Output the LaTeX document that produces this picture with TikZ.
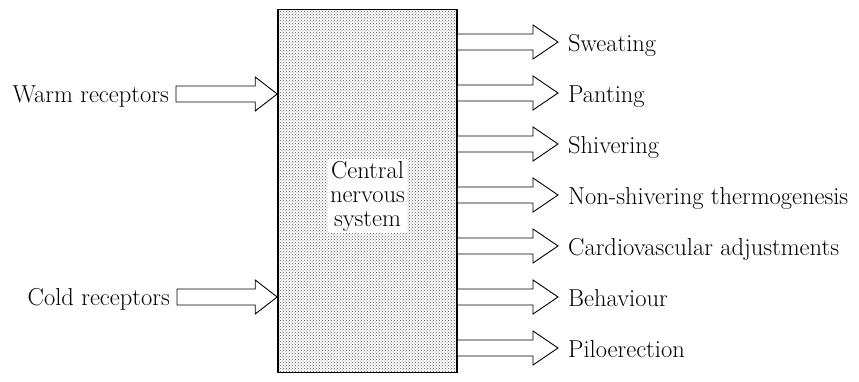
\documentclass[tikz,border=0pt]{standalone}
\usetikzlibrary{calc,patterns,positioning}

% block arrow leaving the box: open at the box side
\newcommand\effectarrow[2]{%
  \draw[fatarrow] let \p1=(#1), \p2=(#2) in
    (\x1,\y2+8) -- (\x2-25,\y2+8) -- (\x2-25,\y2+17) -- (\x2,\y2)
    -- (\x2-25,\y2-17) -- (\x2-25,\y2-8) -- (\x1,\y2-8);}
% block arrow entering the box: closed tail
\newcommand\receptorarrow[2]{%
  \draw[fatarrow] let \p1=(#1), \p2=(#2) in
    (\x1,\y1+8) -- (\x2-22,\y1+8) -- (\x2-22,\y1+17) -- (\x2,\y1)
    -- (\x2-22,\y1-17) -- (\x2-22,\y1-8) -- (\x1,\y1-8) -- cycle;}

\begin{document}
\begin{tikzpicture}[x=1pt,y=1pt,
    font=\fontsize{24.5}{24}\selectfont,
    cnsbox/.style={draw, line width=1.6pt, pattern=crosshatch dots, pattern color=black!65,
      minimum width=179pt, minimum height=363pt, inner sep=0pt},
    effect/.style={anchor=base west, inner sep=0pt},
    receptor/.style={anchor=base east, inner sep=0pt},
    fatarrow/.style={draw, line width=0.9pt, fill=white, line join=miter}
  ]
    \useasboundingbox (0,0) rectangle (859,382);

    \node[cnsbox] (cns) at (367.5,191) {};
    \node[fill=white, align=center, inner sep=2pt] (cnslabel) at (367.5,186) {Central\\nervous\\system};

    % receptors
    \node[receptor] (warm) at (169,279) {Warm receptors};
    \node[receptor] (cold) at (170,76) {Cold receptors};
    \path (warm.base east) ++(7,9) coordinate (warmtail);
    \path (cold.base east) ++(7,9) coordinate (coldtail);
    \receptorarrow{warmtail}{cns.west |- warmtail}
    \receptorarrow{coldtail}{cns.west |- coldtail}

    % effectors
    \foreach \name/\txt [count=\i] in {sweat/Sweating, pant/Panting, shiver/Shivering,
        nonshiver/Non-shivering thermogenesis, cardio/Cardiovascular adjustments,
        behav/Behaviour, pilo/Piloerection} {
      \node[effect] (\name) at (568,{330-51*(\i-1)}) {\txt};
      \path (\name.base west) ++(-10,10) coordinate (\name tip);
      \effectarrow{cns.east}{\name tip}
    }
  \end{tikzpicture}
\end{document}
